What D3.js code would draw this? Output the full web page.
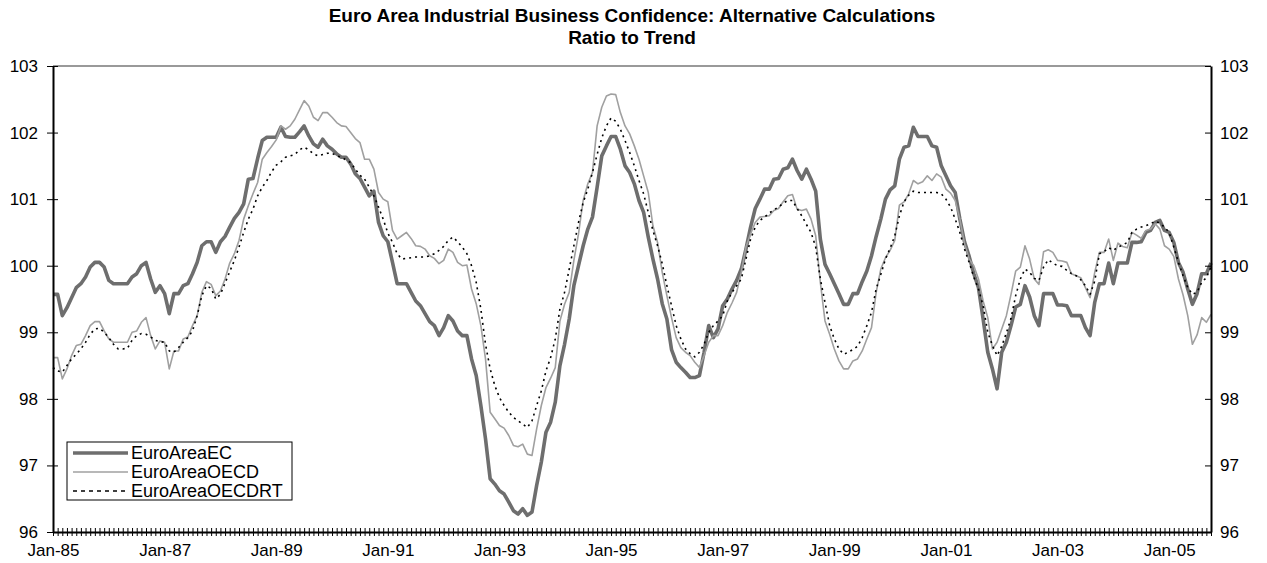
<!DOCTYPE html>
<html>
<head>
<meta charset="utf-8">
<script src="https://cdn.jsdelivr.net/npm/d3@7"></script>
<style>
  body { margin: 0; background: #fff; }
  svg { display: block; }
  text { font-family: "Liberation Sans", Arial, sans-serif; fill: #000; }
</style>
</head>
<body>
<div id="vis"></div>
<script>
// ---- Data (monthly, Jan-85 .. Oct-05) ----
const START = new Date(1985, 0, 1);

const euroAreaEC = [
  99.57, 99.57, 99.25, 99.37, 99.52, 99.67, 99.73, 99.83, 99.98, 100.05, 100.05, 99.98,
  99.78, 99.73, 99.73, 99.73, 99.73, 99.83, 99.88, 100.0, 100.05, 99.8, 99.6, 99.7,
  99.58, 99.28, 99.58, 99.58, 99.7, 99.73, 99.88, 100.05, 100.3, 100.36, 100.36, 100.2,
  100.36, 100.44, 100.58, 100.71, 100.8, 100.93, 101.3, 101.31, 101.61, 101.88, 101.93, 101.93,
  101.93, 102.08, 101.94, 101.93, 101.93, 102.01, 102.1, 101.95, 101.83, 101.78, 101.9, 101.8,
  101.75, 101.68, 101.63, 101.63, 101.53, 101.38, 101.31, 101.18, 101.05, 101.12, 100.65, 100.45,
  100.36, 100.05, 99.73, 99.73, 99.73, 99.6, 99.47, 99.4, 99.28, 99.16, 99.1, 98.95,
  99.07, 99.25, 99.17, 99.02, 98.95, 98.95, 98.6, 98.35, 97.9, 97.4, 96.8, 96.72,
  96.62, 96.57, 96.45, 96.32, 96.27, 96.35, 96.25, 96.3, 96.7, 97.05, 97.5, 97.65,
  97.95, 98.5, 98.82, 99.2, 99.7, 100.0, 100.3, 100.55, 100.73, 101.18, 101.65, 101.8,
  101.94, 101.94, 101.75, 101.5, 101.4, 101.23, 100.98, 100.8, 100.43, 100.1, 99.8, 99.43,
  99.2, 98.74, 98.55, 98.47, 98.4, 98.32, 98.32, 98.35, 98.7, 99.1, 98.92, 99.05,
  99.4, 99.5, 99.65, 99.78, 99.95, 100.25, 100.58, 100.86, 101.0, 101.15, 101.15, 101.3,
  101.31, 101.45, 101.47, 101.6, 101.43, 101.3, 101.45, 101.3, 101.12, 100.4, 100.02, 99.88,
  99.73, 99.58, 99.42, 99.42, 99.58, 99.58, 99.76, 99.92, 100.15, 100.44, 100.7, 101.0,
  101.14, 101.2, 101.6, 101.78, 101.8, 102.08, 101.94, 101.94, 101.94, 101.8, 101.78, 101.5,
  101.35, 101.2, 101.1, 100.7, 100.36, 100.14, 99.88, 99.67, 99.2, 98.7, 98.45, 98.15,
  98.7, 98.85, 99.1, 99.38, 99.42, 99.7, 99.53, 99.25, 99.1, 99.58, 99.58, 99.58,
  99.41, 99.41, 99.4, 99.25, 99.25, 99.25, 99.07, 98.95, 99.45, 99.73, 99.73, 100.04,
  99.73, 100.04, 100.04, 100.04, 100.35, 100.35, 100.36, 100.5, 100.53, 100.65, 100.68, 100.53,
  100.5, 100.35, 100.05, 99.9, 99.65, 99.42, 99.58, 99.88, 99.88, 100.04
];

const euroAreaOECD = [
  98.62, 98.62, 98.3, 98.45, 98.65, 98.8, 98.82, 98.95, 99.1, 99.16, 99.16, 99.02,
  98.9, 98.85, 98.85, 98.85, 98.85, 99.0, 99.02, 99.15, 99.22, 98.95, 98.75, 98.87,
  98.85, 98.45, 98.72, 98.72, 98.9, 98.93, 99.1, 99.25, 99.6, 99.76, 99.72, 99.55,
  99.62, 99.8, 100.04, 100.18, 100.38, 100.7, 100.9, 101.08, 101.25, 101.6, 101.7, 101.79,
  101.89, 102.1, 102.05, 102.1, 102.2, 102.34, 102.48, 102.4, 102.23, 102.18, 102.3, 102.3,
  102.23, 102.15, 102.1, 102.09, 102.0, 101.91, 101.85, 101.6, 101.6, 101.45, 101.1, 101.0,
  100.96, 100.53, 100.4, 100.45, 100.5, 100.41, 100.3, 100.29, 100.25, 100.15, 100.11, 100.03,
  100.08, 100.25, 100.2, 100.05, 100.0, 100.01, 99.65, 99.43, 99.1, 98.6, 97.8, 97.7,
  97.6, 97.56, 97.45, 97.3, 97.28, 97.32, 97.17, 97.15, 97.55, 97.9, 98.17, 98.31,
  98.47, 99.17, 99.42, 99.6, 100.08, 100.48, 100.98, 101.23, 101.4, 102.1, 102.38, 102.55,
  102.58, 102.57, 102.3, 102.1, 101.98, 101.8, 101.6, 101.35, 101.1, 100.6, 100.35, 99.9,
  99.55, 99.22, 98.92, 98.77, 98.7, 98.65, 98.55, 98.47, 98.65, 98.85, 98.95, 98.95,
  99.1, 99.3, 99.44, 99.6, 99.9, 100.28, 100.48, 100.65, 100.73, 100.74, 100.75, 100.83,
  100.86, 100.96, 101.05, 101.07, 100.85, 100.83, 100.85, 100.7, 100.45, 99.75, 99.17, 98.97,
  98.75, 98.57, 98.45, 98.45, 98.57, 98.6, 98.72, 98.9, 99.07, 99.6, 99.95, 100.12,
  100.23, 100.38, 100.91, 100.96, 101.08, 101.28, 101.23, 101.26, 101.35, 101.28, 101.38, 101.33,
  101.15, 101.09, 100.98, 100.7, 100.33, 100.1, 100.0, 99.8, 99.47, 99.22, 98.75, 98.85,
  99.05, 99.25, 99.57, 99.92, 99.98, 100.3, 100.1, 99.8, 99.72, 100.21, 100.24, 100.2,
  100.08, 100.07, 100.05, 99.88, 99.85, 99.82, 99.67, 99.52, 99.9, 100.2, 100.2, 100.4,
  100.08, 100.34, 100.29, 100.27, 100.5, 100.46, 100.41, 100.53, 100.55, 100.63, 100.55, 100.3,
  100.25, 100.14, 99.8, 99.56, 99.25, 98.82, 98.96, 99.22, 99.15, 99.27
];

const euroAreaOECDRT = [
  98.47, 98.42, 98.4, 98.5, 98.6, 98.67, 98.75, 98.85, 98.97, 99.05, 99.06, 99.0,
  98.92, 98.82, 98.75, 98.75, 98.76, 98.88, 98.95, 98.98, 98.97, 98.93, 98.88, 98.86,
  98.85, 98.72, 98.7, 98.77, 98.85, 98.92, 99.02, 99.25, 99.55, 99.7, 99.66, 99.5,
  99.57, 99.74, 99.91, 100.08, 100.28, 100.5, 100.7, 100.85, 101.05, 101.18, 101.28, 101.41,
  101.51, 101.56, 101.63, 101.65, 101.67, 101.74, 101.78, 101.74, 101.68, 101.65, 101.67, 101.69,
  101.69, 101.65, 101.63, 101.59, 101.55, 101.45, 101.36, 101.3, 101.18, 101.05, 100.88, 100.7,
  100.49, 100.35, 100.18, 100.1, 100.11, 100.12, 100.13, 100.13, 100.13, 100.15, 100.18, 100.23,
  100.29, 100.38, 100.43, 100.36, 100.28, 100.18, 100.0, 99.75, 99.35, 98.82, 98.45, 98.2,
  98.02, 97.9, 97.8, 97.72, 97.67, 97.62, 97.57, 97.67, 97.9, 98.12, 98.42, 98.62,
  98.9, 99.35, 99.6, 99.95, 100.3, 100.65, 100.95, 101.15, 101.4, 101.67, 101.92, 102.1,
  102.22, 102.17, 102.05, 101.88, 101.7, 101.5, 101.28, 101.08, 100.8, 100.53, 100.3, 100.03,
  99.7, 99.4, 99.1, 98.9, 98.75, 98.68, 98.63, 98.7, 98.82, 99.0, 99.1, 99.17,
  99.25, 99.47, 99.6, 99.7, 99.8, 100.1, 100.4, 100.58, 100.68, 100.73, 100.79, 100.84,
  100.88, 100.94, 100.98, 100.98, 100.86, 100.75, 100.62, 100.5, 100.28, 99.8, 99.45, 99.1,
  98.9, 98.75, 98.67, 98.7, 98.74, 98.79, 98.92, 99.1, 99.3, 99.65, 99.87, 100.1,
  100.26, 100.45, 100.75, 100.96, 101.06, 101.12, 101.1, 101.1, 101.1, 101.1, 101.1, 101.08,
  101.0, 100.88, 100.7, 100.5, 100.25, 100.05, 99.83, 99.65, 99.4, 99.0, 98.8, 98.65,
  98.79, 98.99, 99.21, 99.55, 99.8, 99.95, 99.9, 99.81, 99.78, 99.98, 100.09, 100.04,
  100.0, 99.99, 99.93, 99.88, 99.85, 99.79, 99.7, 99.57, 99.77, 100.18, 100.21, 100.27,
  100.23, 100.28, 100.31, 100.35, 100.5, 100.55, 100.58, 100.6, 100.63, 100.67, 100.64, 100.58,
  100.5, 100.28, 100.05, 99.85, 99.67, 99.57, 99.6, 99.75, 99.82, 99.98
];

const xTickLabels = ["Jan-85", "Jan-87", "Jan-89", "Jan-91", "Jan-93", "Jan-95",
                     "Jan-97", "Jan-99", "Jan-01", "Jan-03", "Jan-05"];
const yTicks = [96, 97, 98, 99, 100, 101, 102, 103];
const seriesNames = ["EuroAreaEC", "EuroAreaOECD", "EuroAreaOECDRT"];

const months = d3.timeMonth.range(START, d3.timeMonth.offset(START, euroAreaEC.length));

// ---- Layout ----
const W = 1267, H = 563;
const plot = { left: 53, right: 1211, top: 66, bottom: 532 };
const FONT = 17;

const styles = [
  { color: "#6e6e6e", width: 3.6, dash: null },
  { color: "#a0a0a0", width: 1.6, dash: null },
  { color: "#000000", width: 1.6, dash: "2,4" }
];

const svg = d3.select("#vis")
  .append("svg")
  .attr("width", W)
  .attr("height", H);

const x = d3.scalePoint()
  .domain(d3.range(months.length))
  .range([plot.left, plot.right]);

const y = d3.scaleLinear()
  .domain([96, 103])
  .range([plot.bottom, plot.top]);

// Title
const title = svg.append("g")
  .attr("font-weight", "bold")
  .attr("font-size", 19)
  .attr("text-anchor", "middle");
title.append("text").attr("x", 632).attr("y", 22)
  .text("Euro Area Industrial Business Confidence: Alternative Calculations");
title.append("text").attr("x", 632).attr("y", 44).text("Ratio to Trend");

// top border of plot area
svg.append("line")
  .attr("x1", plot.left).attr("x2", plot.right)
  .attr("y1", plot.top).attr("y2", plot.top)
  .attr("stroke", "#777").attr("stroke-width", 1.5);

// ---- Series ----
const line = d3.line()
  .x((d, i) => x(i))
  .y(d => y(d));

const allSeries = [euroAreaEC, euroAreaOECD, euroAreaOECDRT];

svg.append("g")
  .selectAll("path")
  .data(allSeries)
  .join("path")
  .attr("d", d => line(d))
  .attr("fill", "none")
  .attr("stroke", (d, i) => styles[i].color)
  .attr("stroke-width", (d, i) => styles[i].width)
  .attr("stroke-dasharray", (d, i) => styles[i].dash)
  .attr("stroke-linejoin", "round");

// ---- Axes ----
const leftAxis = svg.append("g")
  .attr("transform", `translate(${plot.left},0)`)
  .call(d3.axisLeft(y).tickValues(yTicks).tickFormat(d3.format("d"))
    .tickSizeInner(6).tickSizeOuter(0).tickPadding(9));
leftAxis.selectAll(".tick line").attr("x2", 5).attr("x1", -6);

const rightAxis = svg.append("g")
  .attr("transform", `translate(${plot.right},0)`)
  .call(d3.axisRight(y).tickValues(yTicks).tickFormat(d3.format("d"))
    .tickSizeInner(-6).tickSizeOuter(0).tickPadding(9));

const labelByIndex = new Map(d3.range(0, months.length, 24).map((m, k) => [m, xTickLabels[k]]));

const bottomAxis = svg.append("g")
  .attr("transform", `translate(0,${plot.bottom})`)
  .call(d3.axisBottom(x)
    .tickFormat(i => labelByIndex.get(i) || "")
    .tickSizeInner(4).tickSizeOuter(0).tickPadding(8));
bottomAxis.selectAll(".tick line").attr("y1", -4).attr("y2", 4);

[leftAxis, rightAxis, bottomAxis].forEach(g => {
  g.attr("font-size", FONT).attr("font-family", "Liberation Sans, Arial, sans-serif");
  g.select(".domain").attr("stroke", "#000").attr("stroke-width", 2);
  g.selectAll(".tick line").attr("stroke", "#000").attr("stroke-width", 1);
  g.selectAll(".tick text").attr("fill", "#000");
});

// ---- Legend ----
const legend = svg.append("g").attr("transform", "translate(67,442)");
legend.append("rect")
  .attr("width", 225).attr("height", 58)
  .attr("fill", "#fff").attr("stroke", "#000").attr("stroke-width", 1);

const rows = legend.selectAll("g.row")
  .data(seriesNames)
  .join("g")
  .attr("class", "row")
  .attr("transform", (d, i) => `translate(0,${11 + i * 19})`);

rows.append("line")
  .attr("x1", 6).attr("x2", 61)
  .attr("stroke", (d, i) => styles[i].color)
  .attr("stroke-width", (d, i) => styles[i].width)
  .attr("stroke-dasharray", (d, i) => (styles[i].dash ? "4,4" : null));

rows.append("text")
  .attr("x", 64).attr("dy", "0.35em")
  .attr("font-size", 18)
  .text(d => d);
</script>
</body>
</html>
